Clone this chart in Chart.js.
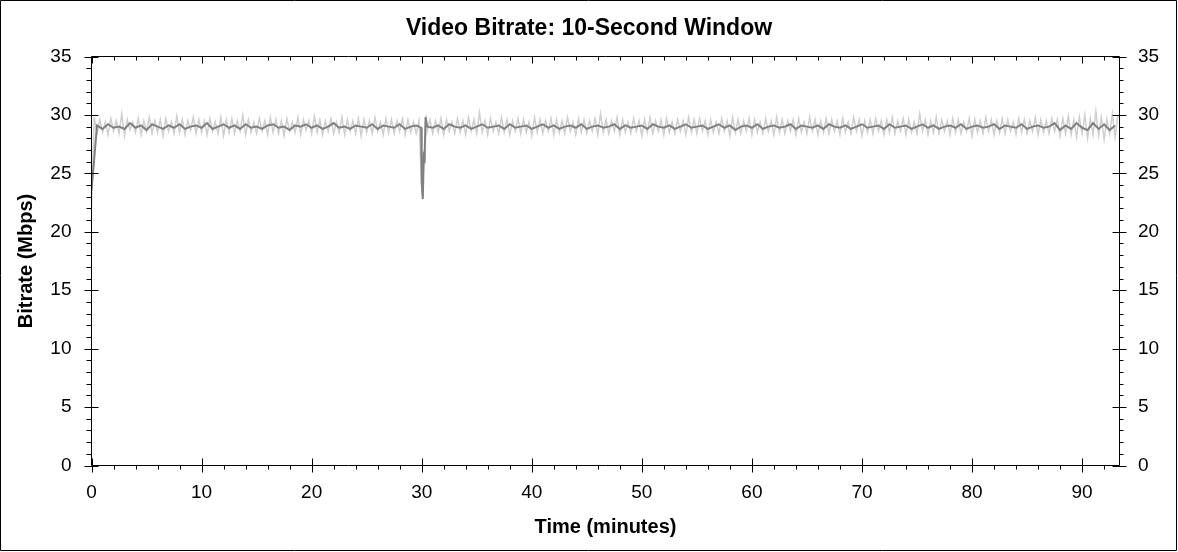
<!DOCTYPE html>
<html>
<head>
<meta charset="utf-8">
<script src="https://cdn.jsdelivr.net/npm/chart.js@4.4.1/dist/chart.umd.min.js"></script>
<style>
  html, body { margin: 0; padding: 0; background: #fff; }
  #wrap { width: 1178px; height: 552px; position: relative; }
</style>
</head>
<body>
<div id="wrap"><canvas id="myChart" width="1178" height="552"></canvas></div>
<script>
'use strict'

// Chart text
const chartTitle = 'Video Bitrate: 10-Second Window';
const xTitle = 'Time (minutes)';
const yTitle = 'Bitrate (Mbps)';

// Axis ranges (minutes, Mbps)
const xMax = 93.4;
const yMax = 35;
const xTickStep = 10;
const yTickStep = 5;

// Light series (short window), one value every 0.25 min
const lightStep = 0.25;
const lightA = [ // 0 .. 29.75 min
  22.0, 29.8, 28.4, 29.6, 28.5, 29.4, 28.3, 29.7, 28.6, 29.5,
  28.4, 30.1, 28.2, 29.6, 28.7, 29.4, 28.5, 29.7, 28.3, 29.5,
  28.6, 29.8, 28.4, 29.5, 28.5, 29.6, 28.2, 29.7, 28.6, 29.4,
  28.4, 29.9, 28.5, 29.6, 28.3, 29.5, 28.7, 29.8, 28.4, 29.6,
  28.5, 29.5, 28.3, 29.7, 28.6, 29.4, 28.4, 29.8, 28.2, 29.6,
  28.5, 29.7, 28.4, 29.5, 28.6, 30.0, 28.3, 29.6, 28.5, 29.4,
  28.4, 29.7, 28.6, 29.5, 28.3, 29.8, 28.5, 29.6, 28.4, 29.5,
  28.2, 29.7, 28.6, 29.4, 28.5, 29.8, 28.3, 29.6, 28.7, 29.5,
  28.4, 29.9, 28.5, 29.6, 28.3, 29.5, 28.6, 29.7, 28.4, 29.4,
  28.5, 29.8, 28.3, 29.6, 28.6, 29.5, 28.4, 29.7, 28.2, 29.6,
  28.5, 29.5, 28.4, 29.8, 28.6, 29.4, 28.3, 29.7, 28.5, 29.6,
  28.4, 29.5, 28.6, 29.7, 28.3, 29.6, 28.5, 29.4, 28.4, 29.5
];
const lightDipTimes = [30.0, 30.1, 30.2, 30.3, 30.4];
const lightDip = [24.0, 22.9, 27.0, 25.8, 30.0];
const lightBStart = 30.5;
const lightB = [ // 30.5 .. 93.25 min
  28.6, 29.6, 28.4, 29.5, 28.5, 29.7, 28.3, 29.6, 28.6, 29.4,
  28.4, 29.7, 28.5, 29.5, 28.3, 29.8, 28.6, 29.6, 28.4, 30.2,
  28.5, 29.5, 28.3, 29.7, 28.6, 29.4, 28.4, 29.8, 28.5, 29.6,
  28.3, 29.5, 28.6, 29.7, 28.4, 29.6, 28.5, 29.4, 28.2, 29.8,
  28.5, 29.6, 28.4, 29.5, 28.6, 29.7, 28.3, 29.6, 28.5, 29.5,
  28.4, 29.8, 28.6, 29.4, 28.3, 29.7, 28.5, 29.6, 28.4, 29.5,
  28.6, 29.7, 28.3, 30.1, 28.5, 29.6, 28.4, 29.5, 28.6, 29.8,
  28.3, 29.6, 28.5, 29.4, 28.4, 29.7, 28.6, 29.5, 28.2, 29.6,
  28.5, 29.8, 28.4, 29.5, 28.6, 29.6, 28.3, 29.7, 28.5, 29.4,
  28.4, 29.6, 28.6, 29.5, 28.3, 29.8, 28.5, 29.6, 28.4, 29.7,
  28.6, 29.5, 28.3, 29.6, 28.5, 29.4, 28.4, 29.7, 28.6, 29.5,
  28.2, 29.8, 28.5, 29.6, 28.4, 29.5, 28.6, 29.7, 28.3, 29.6,
  28.5, 29.4, 28.4, 29.7, 28.6, 29.5, 28.3, 29.8, 28.5, 29.6,
  28.4, 29.5, 28.6, 29.6, 28.3, 29.7, 28.5, 29.4, 28.4, 29.8,
  28.6, 29.6, 28.3, 29.5, 28.5, 29.7, 28.4, 29.6, 28.6, 29.5,
  28.3, 29.7, 28.5, 29.4, 28.4, 29.8, 28.6, 29.6, 28.2, 29.5,
  28.5, 29.6, 28.4, 29.7, 28.6, 29.5, 28.3, 29.6, 28.5, 29.8,
  28.4, 29.5, 28.6, 29.7, 28.3, 29.6, 28.5, 29.4, 28.4, 30.1,
  28.6, 29.6, 28.3, 29.5, 28.5, 29.8, 28.4, 29.6, 28.6, 29.5,
  28.3, 29.7, 28.5, 29.6, 28.4, 29.4, 28.6, 29.7, 28.2, 29.6,
  28.5, 29.5, 28.4, 29.8, 28.6, 29.6, 28.3, 29.5, 28.5, 29.7,
  28.4, 29.6, 28.6, 29.4, 28.3, 29.7, 28.5, 29.6, 28.4, 29.5,
  28.6, 29.8, 28.3, 29.6, 28.5, 29.5, 28.4, 29.7, 28.6, 29.6,
  28.2, 29.7, 28.4, 29.9, 28.3, 29.6, 28.1, 29.8, 28.4, 30.0,
  28.0, 29.7, 28.3, 30.3, 28.2, 29.8, 27.9, 29.6, 28.4, 30.1,
  28.1, 29.9
];

// Dark series (10-second window), one value every 0.5 min
const darkStep = 0.5;
const darkA = [ // 0 .. 29.5 min
  23.5, 29.1, 28.8, 29.2, 28.9, 29.0, 28.8, 29.3, 28.9, 29.1,
  28.7, 29.2, 29.0, 28.8, 29.1, 28.9, 29.2, 28.8, 29.0, 29.1,
  28.9, 29.3, 28.8, 29.0, 29.2, 28.9, 29.1, 28.8, 29.2, 28.9,
  29.0, 28.8, 29.1, 29.2, 28.9, 29.0, 28.7, 29.1, 29.0, 29.2,
  28.9, 29.1, 28.8, 29.0, 29.3, 28.9, 29.0, 28.8, 29.1, 29.0,
  28.9, 29.2, 28.8, 29.1, 29.0, 28.9, 29.2, 28.8, 29.0, 29.1
];
const darkDipTimes = [29.75, 29.95, 30.0, 30.1, 30.2, 30.25, 30.35];
const darkDip = [29.0, 28.9, 24.2, 22.8, 26.8, 25.9, 29.8];
const darkBStart = 30.5;
const darkB = [ // 30.5 .. 93.0 min
  29.0, 28.9, 29.1, 28.8, 29.2, 29.0, 28.9, 29.1, 28.8, 29.0,
  29.2, 28.9, 29.0, 29.1, 28.8, 29.2, 28.9, 29.0, 29.1, 28.8,
  29.0, 29.2, 28.9, 29.1, 28.8, 29.0, 29.1, 28.9, 29.2, 28.8,
  29.0, 29.1, 28.9, 29.0, 29.2, 28.8, 29.1, 28.9, 29.0, 29.1,
  28.8, 29.2, 29.0, 28.9, 29.1, 28.8, 29.0, 29.2, 28.9, 29.0,
  29.1, 28.8, 29.0, 29.2, 28.9, 29.1, 28.7, 29.0, 29.1, 28.9,
  29.2, 28.8, 29.0, 29.1, 28.9, 29.0, 29.2, 28.8, 29.1, 29.0,
  28.9, 29.1, 28.8, 29.2, 29.0, 28.9, 29.1, 28.8, 29.0, 29.2,
  28.9, 29.0, 29.1, 28.8, 29.2, 28.9, 29.0, 29.1, 28.8, 29.0,
  29.2, 28.9, 29.1, 28.8, 29.0, 29.1, 28.9, 29.2, 28.8, 29.0,
  29.1, 28.9, 29.0, 29.2, 28.8, 29.1, 29.0, 28.9, 29.2, 28.8,
  29.0, 29.1, 28.9, 29.0, 29.3, 28.7, 29.1, 28.8, 29.3, 28.9,
  28.7, 29.3, 28.8, 29.2, 28.7, 29.1
];

// turn a run of evenly spaced values into {x, y} points
function run(values, start, step) {
  return values.map((v, i) => ({ x: start + i * step, y: v }));
}
function pairs(times, values) {
  return values.map((v, i) => ({ x: times[i], y: v }));
}

const lightPoints = [].concat(
  run(lightA, 0, lightStep),
  pairs(lightDipTimes, lightDip),
  run(lightB, lightBStart, lightStep)
);
const darkPoints = [].concat(
  run(darkA, 0, darkStep),
  pairs(darkDipTimes, darkDip),
  run(darkB, darkBStart, darkStep)
);

const FONT = '"Liberation Sans", Arial, sans-serif';

// frame, outer border and major/minor tick marks
const frameTicks = {
  id: 'frameTicks',
  afterDraw(chart) {
    const ctx = chart.ctx;
    const a = chart.chartArea;
    const xs = chart.scales.x;
    const ys = chart.scales.y;
    ctx.save();
    ctx.strokeStyle = '#000';
    ctx.lineWidth = 1;
    ctx.beginPath();
    // outer border
    ctx.rect(0.5, 0.5, 1176, 550);
    // plot frame
    ctx.rect(a.left, a.top, a.right - a.left, a.bottom - a.top);
    // x ticks, every 2 min, major every 10
    for (let t = 0; t <= xMax; t += 2) {
      const px = Math.round(xs.getPixelForValue(t)) + 0.5;
      const major = t % 10 === 0;
      ctx.moveTo(px, a.bottom - (major ? 7 : 0));
      ctx.lineTo(px, a.bottom + (major ? 7 : 4));
      ctx.moveTo(px, a.top);
      ctx.lineTo(px, a.top + (major ? 7 : 4));
    }
    // y ticks, every 1, major every 5
    for (let v = 0; v <= yMax; v += 1) {
      const py = Math.round(ys.getPixelForValue(v)) + 0.5;
      const major = v % 5 === 0;
      ctx.moveTo(a.left - (major ? 7 : 5), py);
      ctx.lineTo(a.left + (major ? 7 : 0), py);
      ctx.moveTo(a.right - (major ? 7 : 0), py);
      ctx.lineTo(a.right + (major ? 7 : 4), py);
    }
    ctx.stroke();
    ctx.restore();
  }
};

function chartResults() {
  const ctx = document.getElementById('myChart').getContext('2d');
  const myChart = new Chart(ctx, {
    type: 'line',
    data: {
      datasets: [{
        label: '10-second window',
        data: darkPoints,
        borderColor: '#808080',
        borderWidth: 2,
        pointRadius: 0,
        tension: 0
      }, {
        label: 'short window',
        data: lightPoints,
        borderColor: '#cfcfcf',
        borderWidth: 1.5,
        pointRadius: 0,
        tension: 0
      }]
    },
    options: {
      responsive: false,
      animation: false,
      events: [],
      layout: { padding: 0 },
      plugins: {
        legend: { display: false },
        tooltip: { enabled: false },
        title: {
          display: true,
          text: chartTitle,
          color: '#000',
          font: { family: FONT, size: 23, weight: 'bold' },
          padding: { top: 14.5, bottom: 14.4 }
        }
      },
      scales: {
        x: {
          type: 'linear',
          min: 0,
          max: xMax,
          grid: { display: false, drawTicks: false },
          border: { display: false },
          ticks: {
            stepSize: xTickStep,
            includeBounds: false,
            padding: 16,
            color: '#000',
            maxRotation: 0,
            font: { family: FONT, size: 19 }
          },
          title: {
            display: true,
            text: xTitle,
            color: '#000',
            font: { family: FONT, size: 20, weight: 'bold' },
            padding: { top: 0, bottom: 13 }
          },
          afterFit: s => { s.height = 86.5; }
        },
        y: {
          position: 'left',
          min: 0,
          max: yMax,
          grid: { display: false, drawTicks: false },
          border: { display: false },
          ticks: {
            stepSize: yTickStep,
            padding: 20,
            color: '#000',
            font: { family: FONT, size: 19 }
          },
          title: {
            display: true,
            text: yTitle,
            color: '#000',
            font: { family: FONT, size: 20, weight: 'bold' },
            padding: { top: 14.5, bottom: 0 }
          },
          afterFit: s => { s.width = 91.5; }
        },
        y2: {
          position: 'right',
          min: 0,
          max: yMax,
          grid: { display: false, drawTicks: false },
          border: { display: false },
          ticks: {
            stepSize: yTickStep,
            padding: 18.5,
            color: '#000',
            font: { family: FONT, size: 19 }
          },
          afterFit: s => { s.width = 58.5; }
        }
      }
    },
    plugins: [frameTicks]
  });
}

//Run chart function
chartResults();
</script>
</body>
</html>
